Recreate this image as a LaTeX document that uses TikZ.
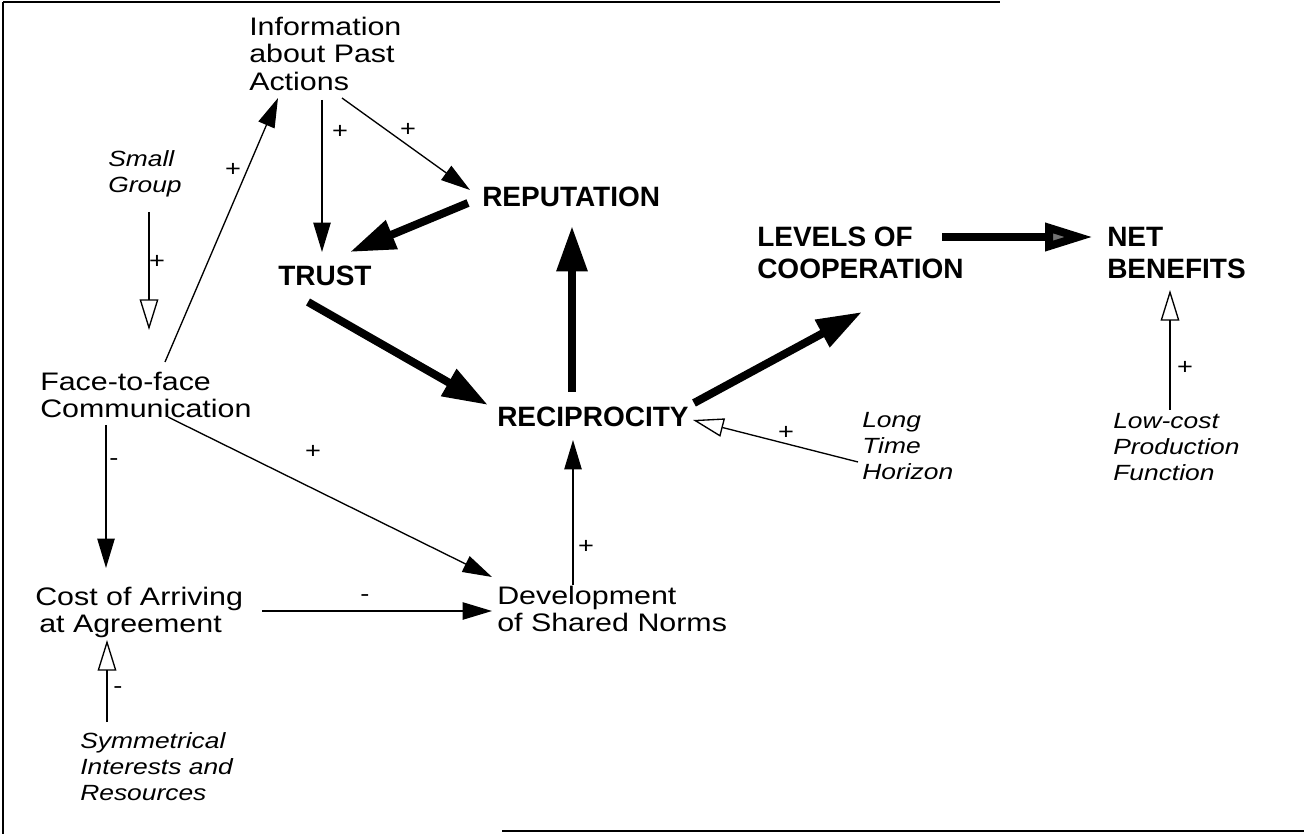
\documentclass[tikz,border=0pt]{standalone}
\usepackage{fontspec}
\setmainfont{Liberation Sans}
\newfontfamily\plainfont[FakeStretch=1.2]{Liberation Sans}
\usetikzlibrary{arrows.meta,calc}

\begin{document}
\begin{tikzpicture}[x=0.75pt,y=0.75pt,yscale=-1,xscale=1,
  reg/.style={anchor=north west,inner sep=0pt,align=left,font=\plainfont\fontsize{19}{20.5}\selectfont},
  ital/.style={reg,font=\plainfont\itshape\fontsize{16.5}{19.5}\selectfont},
  caps/.style={anchor=north west,inner sep=0pt,align=left,font=\bfseries\fontsize{21}{24}\selectfont},
  sign/.style={inner sep=0pt,font=\plainfont\fontsize{17}{17}\selectfont},
  thin/.style={line width=1pt,-{Triangle[length=22pt,width=13pt]}},
  hollow/.style={line width=1pt,-{Triangle[open,length=23pt,width=14pt,line width=1pt]}},
  heavy/.style={line width=6pt,-{Triangle[length=34pt,width=22pt]}}]
\useasboundingbox (0,0) rectangle (1304,834);

%Frame [id:frame]
\draw [line width=2pt] (3,2) -- (1000,2) ;
\draw [line width=1.2pt] (3,2) -- (3,834) ;
\draw [line width=2pt] (502,831) -- (1304,831) ;

% Text Node
\node [reg] (info) at (249,17) {Information\\about Past\\Actions};
% Text Node
\node [ital] (small) at (108,150) {Small\\Group};
% Text Node
\node [reg] (face) at (40,372) {Face-to-face\\Communication};
% Text Node
\node [reg] (cost) at (35,587) {Cost of Arriving\\\hspace*{3pt}at Agreement};
% Text Node
\node [ital] (sym) at (80,732) {Symmetrical\\Interests and\\Resources};
% Text Node
\node [caps] (trust) at (278,266) {TRUST};
% Text Node
\node [caps] (reput) at (482,187) {REPUTATION};
% Text Node
\node [caps] (recip) at (497,407) {RECIPROCITY};
% Text Node
\node [caps] (levels) at (757,227) {LEVELS OF\\COOPERATION};
% Text Node
\node [caps] (net) at (1107,227) {NET\\BENEFITS};
% Text Node
\node [ital] (long) at (862,412) {Long\\Time\\Horizon};
% Text Node
\node [ital] (lowcost) at (1113,413) {Low-cost\\Production\\Function};
% Text Node
\node [reg] (devel) at (497,586) {Development\\of Shared Norms};

%Straight Lines [id:small-face]
\draw [hollow] ($(small.north west)+(41,62)$) -- ($(face.north west)+(109,-42)$) ;
%Straight Lines [id:face-info]
\draw [thin] ($(face.north west)+(125,-10)$) -- ($(info.north west)+(29,81)$) ;
%Straight Lines [id:info-trust]
\draw [thin] ($(info.north west)+(73,83)$) -- ($(trust.north west)+(44,-14)$) ;
%Straight Lines [id:info-reput]
\draw [thin] ($(info.north west)+(93,81)$) -- ($(reput.north west)+(-12,3)$) ;
%Straight Lines [id:reput-trust]
\draw [heavy] ($(reput.north west)+(-14,16)$) -- ($(trust.north west)+(72,-14)$) ;
%Straight Lines [id:trust-recip]
\draw [heavy] ($(trust.north west)+(30,36)$) -- ($(recip.north west)+(-9,-2)$) ;
%Straight Lines [id:recip-reput]
\draw [heavy] ($(recip.north west)+(75,-15)$) -- ($(reput.north west)+(90,39)$) ;
%Straight Lines [id:recip-levels]
\draw [heavy] ($(recip.north west)+(197,-4)$) -- ($(levels.north west)+(105,85)$) ;
%Straight Lines [id:levels-net]
\draw [line width=6pt,-{Triangle[length=36pt,width=20pt,fill=black!55]}] ($(levels.north west)+(185,10)$) -- ($(net.north west)+(-14,10)$) ;
%Straight Lines [id:face-cost]
\draw [thin] ($(face.north west)+(66,53)$) -- ($(cost.north west)+(71,-19)$) ;
%Straight Lines [id:face-devel]
\draw [thin] ($(face.north west)+(128,45)$) -- ($(devel.north west)+(-5,-9)$) ;
%Straight Lines [id:cost-devel]
\draw [thin] ($(cost.north west)+(227,24)$) -- ($(devel.north west)+(-5,25)$) ;
%Straight Lines [id:devel-recip]
\draw [thin] ($(devel.north west)+(76,-1)$) -- ($(recip.north west)+(76,33)$) ;
%Straight Lines [id:long-recip]
\draw [hollow] ($(long.north west)+(-4,50)$) -- ($(recip.north west)+(196,13)$) ;
%Straight Lines [id:lowcost-net]
\draw [hollow] ($(lowcost.north west)+(57,-3)$) -- ($(net.north west)+(63,63)$) ;
%Straight Lines [id:sym-cost]
\draw [hollow] ($(sym.north west)+(27,-10)$) -- ($(cost.north west)+(72,53)$) ;

% Signs
\node [sign] (s1) at (157,262) {+};
\node [sign] (s2) at (233,170) {+};
\node [sign] (s3) at (340,132) {+};
\node [sign] (s4) at (408,130) {+};
\node [sign] (s5) at (114,462) {-};
\node [sign] (s6) at (313,452) {+};
\node [sign] (s7) at (365,598) {-};
\node [sign] (s8) at (586,547) {+};
\node [sign] (s9) at (786,433) {+};
\node [sign] (s10) at (1185,368) {+};
\node [sign] (s11) at (118,690) {-};

\end{tikzpicture}
\end{document}
